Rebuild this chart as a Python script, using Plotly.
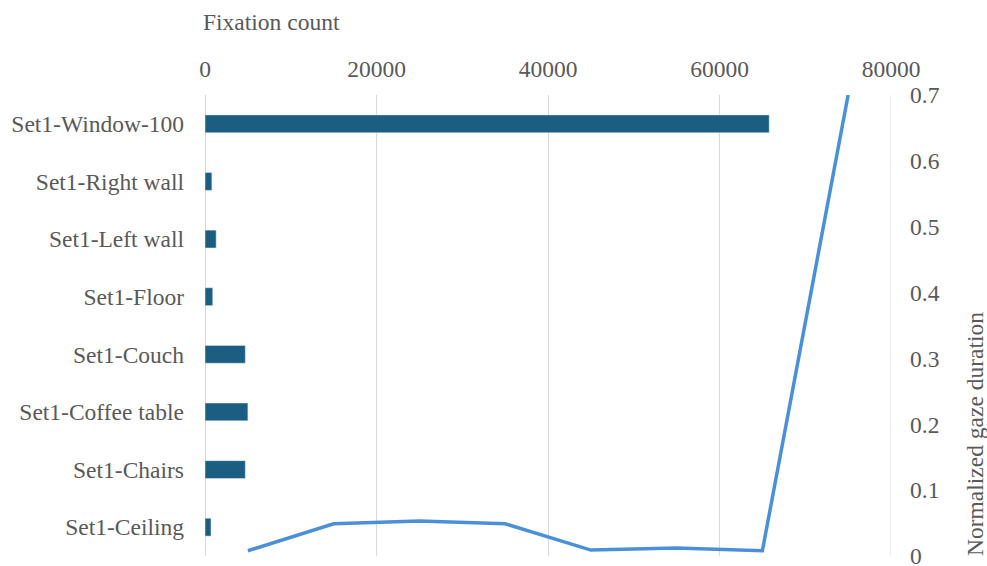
import plotly.graph_objects as go

categories = ["Set1-Ceiling", "Set1-Chairs", "Set1-Coffee table", "Set1-Couch",
              "Set1-Floor", "Set1-Left wall", "Set1-Right wall", "Set1-Window-100"]
fixation_count = [700, 4700, 5000, 4700, 900, 1300, 800, 65800]
gaze_duration = [0.008, 0.049, 0.053, 0.049, 0.009, 0.012, 0.008, 0.70]
x_ticks = [0, 20000, 40000, 60000, 80000]
y2_ticks = [0, 0.1, 0.2, 0.3, 0.4, 0.5, 0.6, 0.7]

FONT = "Liberation Serif, Times New Roman, serif"
GREY = "#595959"
GRID = "#D9D9D9"
FS = 23.5

fig = go.Figure()
fig.add_trace(go.Bar(
    y=categories, x=fixation_count, orientation="h",
    marker=dict(color="#1B5E82"), width=0.31,
    xaxis="x", yaxis="y", name="Fixation count",
))
fig.add_trace(go.Scatter(
    x=categories, y=gaze_duration, mode="lines",
    line=dict(color="#4A90D9", width=3.5),
    xaxis="x2", yaxis="y2", name="Normalized gaze duration",
))

fig.update_layout(
    width=987, height=566,
    margin=dict(l=205, r=96, t=95, b=10),
    paper_bgcolor="white", plot_bgcolor="white",
    showlegend=False,
    font=dict(family=FONT, size=FS, color=GREY),
    xaxis=dict(
        side="top", range=[0, 80000], tickvals=x_ticks,
        ticktext=[str(v) for v in x_ticks],
        showgrid=True, gridcolor=GRID, gridwidth=1,
        zeroline=True, zerolinecolor=GRID, zerolinewidth=1,
        showline=False, ticks="", ticklabeloverflow="allow", automargin=False,
        ticklabelstandoff=12,
        tickfont=dict(family=FONT, size=FS, color=GREY),
    ),
    yaxis=dict(
        type="category", categoryorder="array", categoryarray=categories,
        range=[-0.5, 7.5], showgrid=False, zeroline=False, showline=False,
        ticks="", ticklabelstandoff=20, automargin=False,
        tickfont=dict(family=FONT, size=FS, color=GREY),
    ),
    xaxis2=dict(
        type="category", categoryorder="array", categoryarray=categories,
        range=[-0.5, 7.5], overlaying="x", visible=False, automargin=False,
    ),
    yaxis2=dict(
        overlaying="y", side="right", range=[0, 0.7], tickvals=y2_ticks,
        ticktext=["0" if v == 0 else f"{v:.1f}" for v in y2_ticks],
        showgrid=False, zeroline=False, showline=False, ticks="",
        ticklabeloverflow="allow", automargin=False,
        ticklabelstandoff=18,
        tickfont=dict(family=FONT, size=FS, color=GREY),
    ),
    shapes=[
        dict(type="line", xref="x", yref="paper", x0=x_ticks[-1], x1=x_ticks[-1],
             y0=0, y1=1, line=dict(color=GRID, width=1), layer="below"),
    ],
    annotations=[
        dict(text="Fixation count", xref="paper", yref="paper",
             x=0, y=1, xanchor="left", yanchor="bottom",
             xshift=-4, yshift=58, showarrow=False,
             font=dict(family=FONT, size=FS, color=GREY)),
        dict(text="Normalized gaze duration", xref="paper", yref="paper",
             x=1, y=0, xanchor="center", yanchor="bottom",
             xshift=84, yshift=-2, textangle=-90, showarrow=False,
             font=dict(family=FONT, size=FS, color=GREY)),
    ],
)

fig.write_html("out.html")
